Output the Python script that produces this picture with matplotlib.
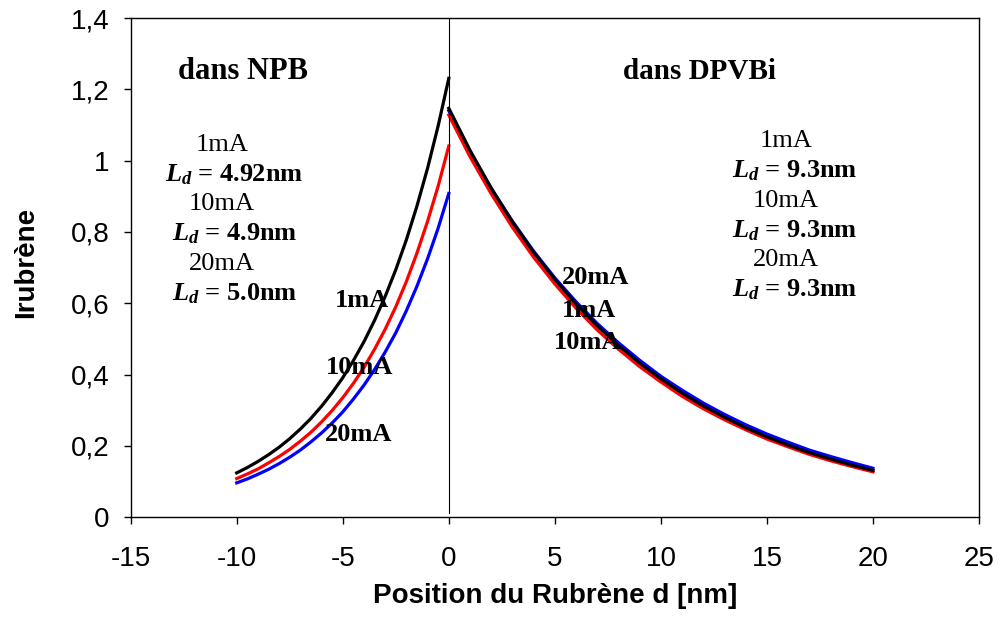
import matplotlib
matplotlib.use('Agg')
import matplotlib.pyplot as plt

# Curves (position in nm, intensity)
x_npb = [-10, -9.5, -9, -8.5, -8, -7.5, -7, -6.5, -6, -5.5, -5,
         -4.5, -4, -3.5, -3, -2.5, -2, -1.5, -1, -0.5, 0]
npb_1ma = [0.124, 0.139, 0.156, 0.175, 0.196, 0.220, 0.247, 0.277, 0.311, 0.349, 0.391,
           0.439, 0.492, 0.552, 0.619, 0.694, 0.778, 0.873, 0.979, 1.098, 1.231]
npb_10ma = [0.108, 0.121, 0.135, 0.152, 0.170, 0.190, 0.213, 0.238, 0.267, 0.299, 0.335,
            0.375, 0.420, 0.471, 0.527, 0.590, 0.661, 0.741, 0.830, 0.929, 1.041]
npb_20ma = [0.096, 0.107, 0.120, 0.134, 0.150, 0.168, 0.188, 0.211, 0.236, 0.264, 0.295,
            0.331, 0.370, 0.414, 0.463, 0.517, 0.579, 0.648, 0.725, 0.811, 0.908]

x_dpvbi = list(range(0, 21))
dpvbi_1ma = [1.147, 1.029, 0.923, 0.828, 0.743, 0.667, 0.598, 0.537, 0.482, 0.432, 0.388,
             0.348, 0.312, 0.280, 0.251, 0.225, 0.202, 0.181, 0.163, 0.146, 0.131]
dpvbi_10ma = [1.128, 1.011, 0.907, 0.813, 0.729, 0.654, 0.586, 0.525, 0.471, 0.422, 0.379,
              0.339, 0.304, 0.273, 0.245, 0.219, 0.197, 0.176, 0.158, 0.142, 0.127]
dpvbi_20ma = [1.140, 1.025, 0.922, 0.830, 0.746, 0.671, 0.604, 0.543, 0.489, 0.440, 0.395,
              0.356, 0.320, 0.288, 0.259, 0.233, 0.210, 0.188, 0.170, 0.153, 0.137]

x_ticks = [-15, -10, -5, 0, 5, 10, 15, 20, 25]
y_ticks = [0, 0.2, 0.4, 0.6, 0.8, 1.0, 1.2, 1.4]
y_tick_labels = ['0', '0,2', '0,4', '0,6', '0,8', '1', '1,2', '1,4']

currents = ['1mA', '10mA', '20mA']
ld_npb = ['4.92nm', '4.9nm', '5.0nm']
ld_dpvbi = ['9.3nm', '9.3nm', '9.3nm']

plt.rcParams['axes.unicode_minus'] = False
plt.rcParams['mathtext.fontset'] = 'custom'
plt.rcParams['mathtext.it'] = 'Liberation Serif:italic:bold'
plt.rcParams['mathtext.rm'] = 'Liberation Serif:bold'

fig = plt.figure(figsize=(9.99, 6.23), dpi=100)
ax = fig.add_axes([0.1308, 0.170, 0.8492, 0.801])

lw = 2.3
ax.plot(x_npb, npb_20ma, color='#0000ff', lw=lw)
ax.plot(x_npb, npb_10ma, color='#ff0000', lw=lw)
ax.plot(x_npb, npb_1ma, color='black', lw=lw)
ax.plot(x_dpvbi, dpvbi_20ma, color='#0000ff', lw=lw)
ax.plot(x_dpvbi, dpvbi_10ma, color='#ff0000', lw=lw)
ax.plot(x_dpvbi, dpvbi_1ma, color='black', lw=lw)

ax.axvline(0, ymin=0.008, ymax=1, color='black', lw=0.8)

ax.set_xlim(-15, 25)
ax.set_ylim(0, 1.4)
ax.set_xticks(x_ticks)
ax.set_yticks(y_ticks)
ax.set_yticklabels(y_tick_labels)
for s in ax.spines.values():
    s.set_linewidth(1.0)
ax.tick_params(direction='out', length=5, width=1, labelsize=20)
ax.tick_params(axis='x', pad=16)
ax.tick_params(axis='y', pad=10)
for t in ax.get_xticklabels() + ax.get_yticklabels():
    t.set_family('Liberation Sans')

ax.set_xlabel('Position du Rubrène d [nm]', fontsize=20, fontweight='bold',
              family='Liberation Sans', labelpad=8)
ax.set_ylabel('Irubrène', fontsize=20, fontweight='bold',
              family='Liberation Sans')
ax.yaxis.set_label_coords(-0.108, 0.51)

serif = 'Liberation Serif'
ax.text(-9.7, 1.25, 'dans NPB', fontsize=22, fontweight='bold', family=serif,
        ha='center', va='center')
ax.text(11.8, 1.25, 'dans DPVBi', fontsize=21, fontweight='bold', family=serif,
        ha='center', va='center')

# Fit summaries
y0 = 1.045
dy = 0.0835
for i, (c, ld) in enumerate(zip(currents, ld_npb)):
    ax.text(-10.7, y0 - 2 * i * dy, c, fontsize=19, family=serif, ha='center', va='center')
    ax.text(-10.1, y0 - (2 * i + 1) * dy, r'$L_d$' + ' = ' + ld, fontsize=19,
            fontweight='bold', family=serif, ha='center', va='center')
for i, (c, ld) in enumerate(zip(currents, ld_dpvbi)):
    ax.text(15.9, y0 + 0.01 - 2 * i * dy, c, fontsize=19, family=serif, ha='center', va='center')
    ax.text(16.3, y0 + 0.01 - (2 * i + 1) * dy, r'$L_d$' + ' = ' + ld, fontsize=19,
            fontweight='bold', family=serif, ha='center', va='center')

# Curve labels
ax.text(-4.1, 0.609, '1mA', fontsize=19, fontweight='bold', family=serif, ha='center', va='center')
ax.text(-4.2, 0.42, '10mA', fontsize=19, fontweight='bold', family=serif, ha='center', va='center')
ax.text(-4.25, 0.233, '20mA', fontsize=19, fontweight='bold', family=serif, ha='center', va='center')
ax.text(6.9, 0.673, '20mA', fontsize=19, fontweight='bold', family=serif, ha='center', va='center')
ax.text(6.6, 0.58, '1mA', fontsize=19, fontweight='bold', family=serif, ha='center', va='center')
ax.text(6.55, 0.49, '10mA', fontsize=19, fontweight='bold', family=serif, ha='center', va='center')

fig.savefig('out.png', dpi=100, facecolor='white')
plt.close(fig)
